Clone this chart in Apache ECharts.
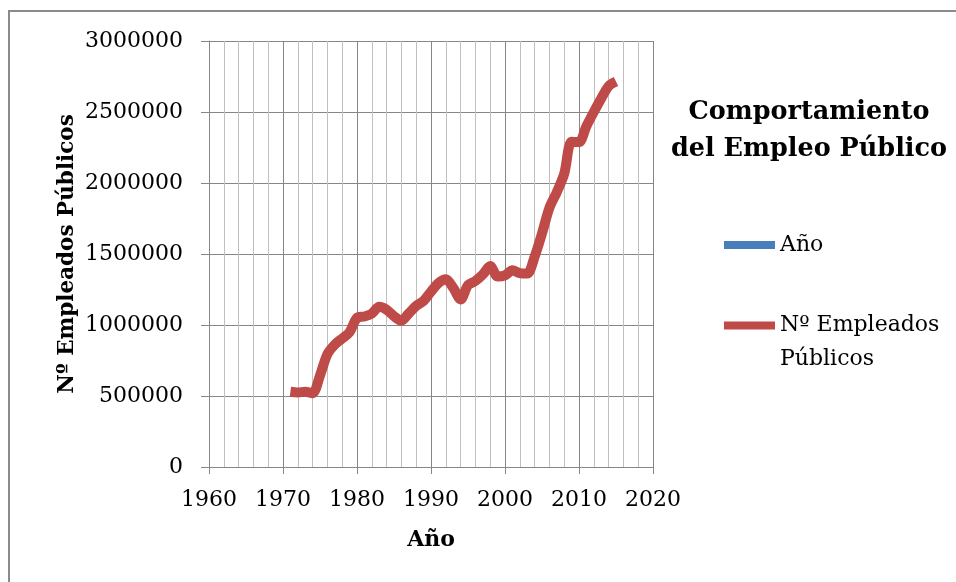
<!DOCTYPE html>
<html>
<head>
<meta charset="utf-8">
<script src="https://cdn.jsdelivr.net/npm/echarts@6/dist/echarts.min.js"></script>
<style>
  html, body { margin: 0; padding: 0; background: #fff; }
  #chart { width: 956px; height: 582px; }
</style>
</head>
<body>
<div id="chart"></div>
<script>
// años y empleados publicos
var years = [1971, 1972, 1973, 1974, 1975, 1976, 1977, 1978, 1979, 1980,
             1981, 1982, 1983, 1984, 1985, 1986, 1987, 1988, 1989, 1990,
             1991, 1992, 1993, 1994, 1995, 1996, 1997, 1998, 1999, 2000,
             2001, 2002, 2003, 2004, 2005, 2006, 2007, 2008, 2009, 2010,
             2011, 2012, 2013, 2014, 2015];
var empleados = [530000, 525000, 530000, 520000, 645000, 795000, 862000, 905000, 950000, 1050000,
                 1060000, 1080000, 1128000, 1108000, 1062000, 1030000, 1082000, 1135000, 1170000, 1235000,
                 1295000, 1322000, 1262000, 1180000, 1280000, 1310000, 1355000, 1415000, 1342000, 1350000,
                 1385000, 1365000, 1362000, 1480000, 1645000, 1825000, 1935000, 2065000, 2290000, 2288000,
                 2400000, 2500000, 2595000, 2682000, 2715000];
var seriesNames = ['Año', 'Nº Empleados Públicos'];
var xTicks = [1960, 2020, 10];       // min, max, intervalo
var yTicks = [0, 3000000, 500000];

var serieData = years.map(function (y, i) { return [y, empleados[i]]; });

var fontFam = '"DejaVu Serif", serif';
var gris = '#868686';

var myChart = echarts.init(document.getElementById('chart'));
var option = {
    backgroundColor: '#fff',
    animation: false,
    title: {
        text: 'Comportamiento\ndel Empleo Público',
        left: 804,
        top: 89,
        textAlign: 'center',
        textStyle: {
            fontFamily: fontFam,
            fontWeight: 'bold',
            fontSize: 25.5,
            lineHeight: 37,
            color: '#000'
        }
    },
    graphic: [{
        type: 'rect',
        shape: { x: 9, y: 11, width: 1000, height: 1000 },
        style: { fill: 'none', stroke: '#8a8a8a', lineWidth: 2 },
        silent: true
    }],
    legend: [{
        data: [seriesNames[0]],
        orient: 'vertical',
        left: 724,
        top: 228.5,
        padding: 0,
        icon: 'rect',
        itemWidth: 51,
        itemHeight: 8,
        textStyle: { fontFamily: fontFam, fontSize: 22, lineHeight: 33, color: '#000' }
    }, {
        data: [seriesNames[1]],
        orient: 'vertical',
        left: 724,
        top: 274.5,
        padding: 0,
        icon: 'rect',
        itemWidth: 51,
        itemHeight: 8,
        // linea vacia arriba para que la primera linea quede junto al icono
        formatter: function () { return '\nNº Empleados\nPúblicos'; },
        textStyle: { fontFamily: fontFam, fontSize: 22, lineHeight: 34, color: '#000' }
    }],
    grid: {
        left: 209,
        right: 303,
        top: 41,
        bottom: 115
    },
    xAxis: {
        type: 'value',
        min: xTicks[0],
        max: xTicks[1],
        interval: xTicks[2],
        name: 'Año',
        nameLocation: 'middle',
        nameGap: 62,
        nameTextStyle: { fontFamily: fontFam, fontWeight: 'bold', fontSize: 22, color: '#000' },
        axisLine: { lineStyle: { color: gris, width: 1 } },
        axisTick: { show: true, length: 7, lineStyle: { color: gris } },
        axisLabel: { margin: 22, fontFamily: fontFam, fontSize: 22, color: '#000',
                     formatter: function (v) { return String(v); } },
        splitLine: { show: true, lineStyle: { color: gris, width: 1 } },
        minorTick: { show: false, splitNumber: 5 },
        minorSplitLine: { show: true, lineStyle: { color: '#c0c0c0', width: 1 } }
    },
    yAxis: {
        type: 'value',
        min: yTicks[0],
        max: yTicks[1],
        interval: yTicks[2],
        name: 'Nº Empleados Públicos',
        nameLocation: 'middle',
        nameRotate: 90,
        nameGap: 131,
        nameTextStyle: { fontFamily: fontFam, fontWeight: 'bold', fontSize: 21.5, color: '#000' },
        axisLine: { show: true, lineStyle: { color: gris, width: 1 } },
        axisTick: { show: true, length: 8, lineStyle: { color: gris } },
        axisLabel: { margin: 26, fontFamily: fontFam, fontSize: 22, color: '#000',
                     formatter: function (v) { return String(v); } },
        splitLine: { show: true, lineStyle: { color: gris, width: 1 } }
    },
    series: [{
        name: seriesNames[0],
        type: 'line',
        color: '#4a7ebb',
        data: [],
        showSymbol: false
    }, {
        name: seriesNames[1],
        type: 'line',
        color: '#be4b48',
        data: serieData,
        smooth: 0.3,
        showSymbol: false,
        symbol: 'none',
        lineStyle: { width: 10, cap: 'butt', join: 'round', color: '#be4b48' }
    }]
};
myChart.setOption(option);
</script>
</body>
</html>
